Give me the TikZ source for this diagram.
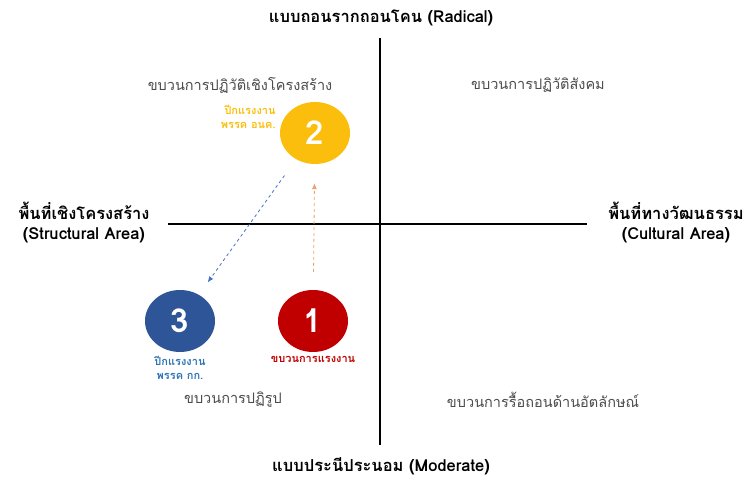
\documentclass[tikz,border=0pt]{standalone}
\usepackage{fontspec}
\setmainfont[Script=Thai]{Loma}
\usetikzlibrary{shapes.geometric, arrows.meta, positioning}
\definecolor{gold}{RGB}{252,190,12}
\definecolor{navy}{RGB}{46,85,151}
\definecolor{crimson}{RGB}{192,0,0}
\definecolor{skyblue}{RGB}{46,117,182}
\definecolor{peach}{RGB}{240,160,110}
\definecolor{arrowblue}{RGB}{68,114,196}
\tikzstyle{axis}=[line width=1.6pt, black]
\tikzstyle{pole}=[font=\bfseries\fontsize{16.5}{20}\selectfont, align=center]
\tikzstyle{quad}=[text=black!70, font=\fontsize{14.5}{16}\selectfont]
\tikzstyle{party}=[ellipse, minimum width=70pt, minimum height=62pt, inner sep=0pt, text=white, font=\bfseries\fontsize{33}{33}\selectfont]
\tikzstyle{tag}=[font=\bfseries\fontsize{11}{13.5}\selectfont, align=center, inner sep=1pt]
\tikzstyle{flow}=[-{Latex[length=6pt,width=5pt]}, dashed, thick]

\begin{document}
\begin{tikzpicture}[x=1pt, y=-1pt]
\useasboundingbox (0,0) rectangle (748,478);

% Axes
\coordinate (ytop) at (380,38);
\coordinate (ybot) at (380,445);
\coordinate (xleft) at (168,224);
\coordinate (xright) at (587,224);
\draw[axis] (ytop) -- (ybot);
\draw[axis] (xleft) -- (xright);

% Poles
\node[pole] (radical) at (381,18) {แบบถอนรากถอนโคน (Radical)};
\node[pole] (moderate) at (381,466) {แบบประนีประนอม (Moderate)};
\node[pole] (structural) at (84,222) {พื้นที่เชิงโครงสร้าง\\(Structural Area)};
\node[pole] (cultural) at (676,222) {พื้นที่ทางวัฒนธรรม\\(Cultural Area)};

% Quadrants
\node[quad] (q1) at (240,85) {ขบวนการปฏิวัติเชิงโครงสร้าง};
\node[quad] (q2) at (538,85) {ขบวนการปฏิวัติสังคม};
\node[quad] (q3) at (233,400) {ขบวนการปฏิรูป};
\node[quad] (q4) at (543,400) {ขบวนการรื้อถอนด้านอัตลักษณ์};

% Movements
\node[party, fill=gold] (c2) at (315,133) {2};
\node[party, fill=navy] (c3) at (180,321) {3};
\node[party, fill=crimson] (c1) at (313,321) {1};

\node[tag, text=gold, align=right, left=3pt of c2.west, yshift=16pt] (t2) {ปีกแรงงาน\\พรรค อนค.};
\node[tag, text=skyblue, below=3pt of c3] (t3) {ปีกแรงงาน\\พรรค กก.};
\node[tag, text=crimson, below=3pt of c1] (t1) {ขบวนการแรงงาน};

% Flow arrows
\draw[flow, arrowblue, shorten <=20pt, shorten >=15pt] (c2) -- (c3);
\draw[flow, peach, shorten <=18pt, shorten >=19pt] (c1) -- (c2);

\end{tikzpicture}
\end{document}
